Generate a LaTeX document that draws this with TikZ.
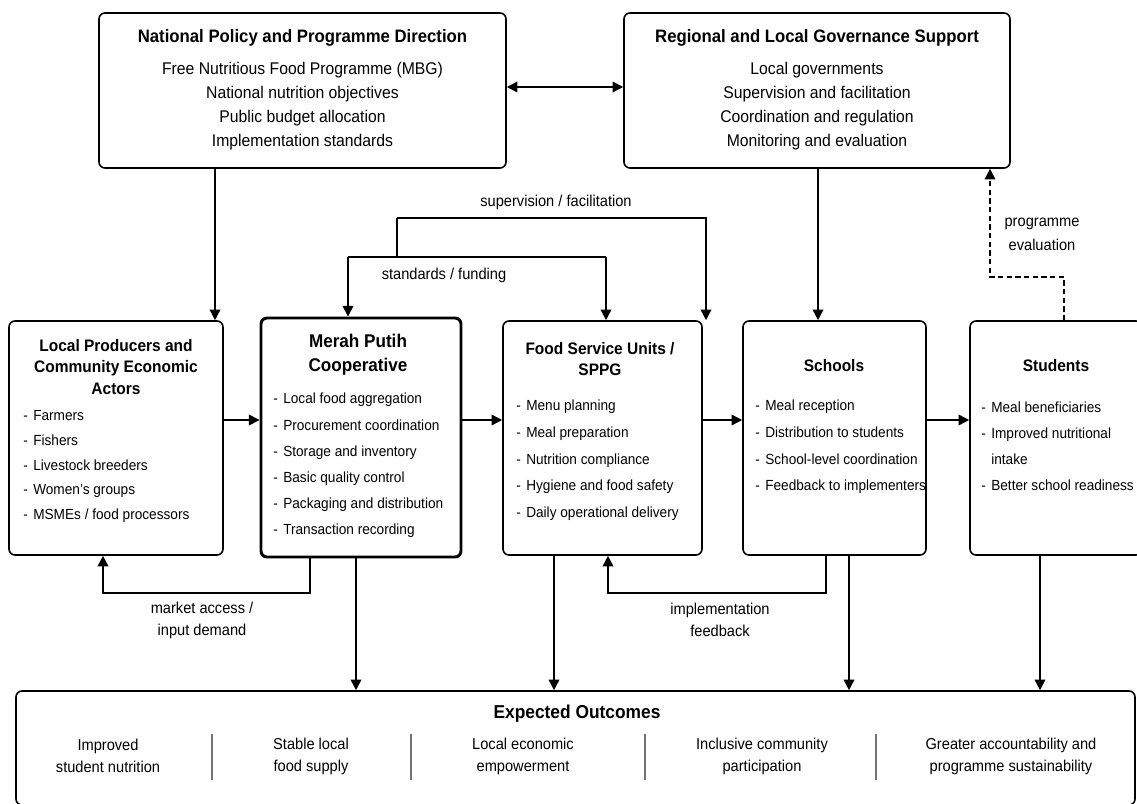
\documentclass[tikz,border=0pt]{standalone}
\usepackage{fontspec}
\setmainfont{Liberation Sans}[FakeStretch=0.93]
\usetikzlibrary{arrows.meta}

\newcommand{\itm}{\makebox[7.5pt][l]{-}} % list dash
\tikzset{
	box/.style={draw, line width=1.2pt, rounded corners=4.5pt, inner sep=0pt},
	coopbox/.style={box, line width=2.2pt},
	toptl/.style={font=\fontsize{13.5}{16}\selectfont\bfseries},
	topbody/.style={font=\fontsize{12.7}{18}\selectfont, align=center},
	ttl/.style={font=\fontsize{12.5}{16}\selectfont\bfseries, align=center},
	lst/.style={anchor=west, align=left, inner sep=0pt, font=\fontsize{11}{#1}\selectfont},
	lbl/.style={font=\fontsize{11.8}{16.5}\selectfont, align=center},
	conn/.style={line width=1.2pt},
	arr/.style={conn, ->},
	sep/.style={draw=black!55, line width=0.9pt}
}

\begin{document}
\begin{tikzpicture}[x=0.75pt, y=-0.75pt, >={Triangle[length=8pt,width=8pt]}]
	\useasboundingbox[fill=white] (0,0) rectangle (1137,803);
	% governance level
	\node[box, minimum width=305.25pt, minimum height=116.25pt] (nat) at (302.5,90.5) {};
	\node[toptl] (nat-t) at (302.5,38) {National Policy and Programme Direction};
	\node[topbody] (nat-b) at (302.5,106) {Free Nutritious Food Programme (MBG)\\National nutrition objectives\\Public budget allocation\\Implementation standards};
	\node[box, minimum width=289.5pt, minimum height=116.25pt] (reg) at (817,90.5) {};
	\node[toptl] (reg-t) at (817,38) {Regional and Local Governance Support};
	\node[topbody] (reg-b) at (817,106) {Local governments\\Supervision and facilitation\\Coordination and regulation\\Monitoring and evaluation};
	
	% implementation chain
	\node[box, minimum width=160.5pt, minimum height=175.5pt] (loc) at (116,438) {};
	\node[ttl] (loc-t) at (116,367) {Local Producers and\\Community Economic\\Actors};
	\node[lst=18.5] (loc-l) at (23,466.5) {\itm Farmers\\\itm Fishers\\\itm Livestock breeders\\\itm Women’s groups\\\itm MSMEs / food processors};
	
	\node[coopbox, minimum width=150pt, minimum height=179.25pt] (coop) at (361,437.5) {};
	\node[ttl, font=\fontsize{13.8}{18}\selectfont\bfseries] (coop-t) at (358,355) {Merah Putih\\Cooperative};
	\node[lst=19.6] (coop-l) at (273,465.5) {\itm Local food aggregation\\\itm Procurement coordination\\\itm Storage and inventory\\\itm Basic quality control\\\itm Packaging and distribution\\\itm Transaction recording};
	
	\node[box, minimum width=149.25pt, minimum height=175.5pt] (sppg) at (602.5,438) {};
	\node[ttl] (sppg-t) at (600,359) {Food Service Units /\\SPPG};
	\node[lst=20] (sppg-l) at (516,460.5) {\itm Menu planning\\\itm Meal preparation\\\itm Nutrition compliance\\\itm Hygiene and food safety\\\itm Daily operational delivery};
	
	\node[box, minimum width=137.25pt, minimum height=175.5pt] (sch) at (834.5,438) {};
	\node[ttl] (sch-t) at (834,366) {Schools};
	\node[lst=20] (sch-l) at (755,447) {\itm Meal reception\\\itm Distribution to students\\\itm School-level coordination\\\itm Feedback to implementers};
	
	\node[box, minimum width=129pt, minimum height=175.5pt] (stu) at (1056,438) {};
	\node[ttl] (stu-t) at (1056,366) {Students};
	\node[lst=19.5] (stu-l) at (981,446) {\itm Meal beneficiaries\\\itm Improved nutritional\\\hspace*{7.5pt}intake\\\itm Better school readiness};
	
	% outcomes
	\node[box, minimum width=839.25pt, minimum height=85.5pt] (out) at (575.5,748) {};
	\node[toptl, font=\fontsize{14}{16}\selectfont\bfseries] (out-t) at (577,714) {Expected Outcomes};
	\node[lbl] (o1) at (108,756) {Improved\\student nutrition};
	\node[lbl] (o2) at (311,756) {Stable local\\food supply};
	\node[lbl] (o3) at (523,756) {Local economic\\empowerment};
	\node[lbl] (o4) at (762,756) {Inclusive community\\participation};
	\node[lbl] (o5) at (1011,756) {Greater accountability and\\programme sustainability};
	\foreach \x in {212,411,645,876}
		\draw[sep] (\x,734) -- (\x,780);
	
	% connectors
	\draw[arr] (215,0 |- nat.south) -- (215,0 |- loc.north);
	\draw[arr, <->] (nat.east |- 0,87) -- (reg.west |- 0,87);
	\draw[arr] (818,0 |- reg.south) -- (818,0 |- sch.north);
	
	\coordinate (sup) at (397,218);
	\coordinate (std) at (397,257);
	\coordinate (stdL) at (348,257);
	\coordinate (stdR) at (606,257);
	\draw[conn] (std) -- (sup);
	\draw[arr] (sup) -| (706,0 |- sppg.north);
	\draw[conn] (stdL) -- (stdR);
	\draw[arr] (stdL) -- (stdL |- coop.north);
	\draw[arr] (stdR) -- (stdR |- sppg.north);
	\node[lbl] (sup-l) at (556,202) {supervision / facilitation};
	\node[lbl] (std-l) at (444,275) {standards / funding};
	
	\draw[arr, dash pattern=on 4pt off 2.5pt] (1064,0 |- stu.north) |- (990,277) -- (990,0 |- reg.south);
	\node[lbl, font=\fontsize{11.8}{18}\selectfont] (eval-l) at (1042,234) {programme\\evaluation};
	
	\foreach \a/\b in {loc/coop, coop/sppg, sppg/sch, sch/stu}
		\draw[arr] (\a.east |- 0,420) -- (\b.west |- 0,420);
	
	% feedback loops
	\draw[arr] (310,0 |- coop.south) |- (103,593) -- (103,0 |- loc.south);
	\draw[arr] (826,0 |- sch.south) |- (608,593) -- (608,0 |- sppg.south);
	\node[lbl] (mkt-l) at (202,620) {market access /\\input demand};
	\node[lbl] (fb-l) at (720,620) {implementation\\feedback};
	
	\foreach \n/\x in {coop/356, sppg/554, sch/849, stu/1040}
		\draw[arr] (\x,0 |- \n.south) -- (\x,0 |- out.north);
\end{tikzpicture}
\end{document}
